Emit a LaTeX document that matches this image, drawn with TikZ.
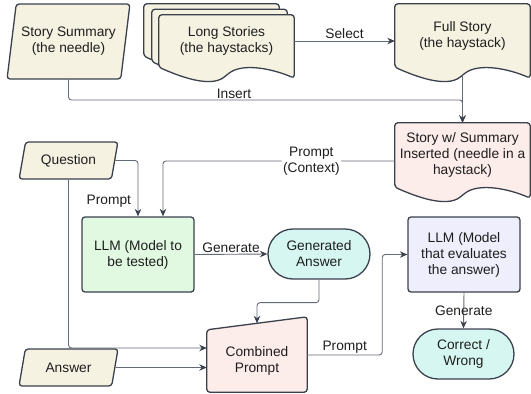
\documentclass[tikz,border=0pt]{standalone}
\usepackage{fontspec}
\setmainfont{Liberation Sans}
\usepackage{tikz}
\usetikzlibrary{shapes.geometric,arrows.meta,calc,backgrounds}

\definecolor{cream}{RGB}{246,242,226}
\definecolor{blush}{RGB}{252,236,234}
\definecolor{mint}{RGB}{214,247,241}
\definecolor{leaf}{RGB}{225,248,225}
\definecolor{lilac}{RGB}{238,238,252}
\definecolor{edge}{RGB}{58,64,76}
\definecolor{wire}{RGB}{100,106,118}
\definecolor{txt}{RGB}{30,30,30}

% document outline with a wavy bottom, drawn round a node
\newcommand{\docshape}[2]{%
  \path[#2] let \p1=(#1.south west), \p2=(#1.north east), \n1={\x2-\x1} in
    (\x1,\y1) -- (\x1,\y2) -- (\x2,\y2) -- (\x2,\y1-11pt)
    .. controls (\x1+0.85*\n1,\y1-2pt) and (\x1+0.62*\n1,\y1+5pt) .. (\x1+0.5*\n1,\y1-8pt)
    .. controls (\x1+0.38*\n1,\y1-21pt) and (\x1+0.15*\n1,\y1-9pt) .. cycle;}

\begin{document}
\begin{tikzpicture}[x=1pt, y=-1pt,
  every node/.style={font=\fontsize{13.75}{16}\selectfont, text=txt, align=center},
  para/.style={trapezium, trapezium left angle=75, trapezium right angle=105,
               trapezium stretches=true, draw=edge, line width=1.3pt,
               fill=cream, rounded corners=3pt, inner sep=2pt},
  box/.style={rectangle, draw=edge, line width=1.3pt, rounded corners=3pt,
              minimum width=112pt, minimum height=75pt},
  pill/.style={rectangle, draw=edge, line width=1.3pt, rounded corners=25pt,
               fill=mint, minimum height=50pt},
  doc/.style={rectangle, minimum width=135pt, inner sep=2pt},
  docline/.style={draw=edge, line width=1.3pt, rounded corners=3pt},
  conn/.style={draw=wire, line width=0.9pt, rounded corners=3pt,
               -{Stealth[length=7.5pt, width=6.5pt, color=edge]}},
  lbl/.style={inner sep=1.5pt}
]
\useasboundingbox (0,0) rectangle (531,394);

\node[para, minimum width=123pt, minimum height=75pt] (ss) at (68.5,41.5) {Story Summary\\(the needle)};
\node[doc, minimum height=52pt] (ls0) at (211.5,30) {};
\node[doc, minimum height=52pt] (ls1) at (219.5,35.5) {};
\node[doc, minimum height=52pt] (ls2) at (226.5,41) {Long Stories\\(the haystacks)};
\node[doc, minimum height=63pt] (fs) at (462.5,35.5) {Full Story\\(the haystack)};
\node[doc, minimum height=64pt] (sw) at (462.5,155) {Story w/ Summary\\Inserted (needle in a\\haystack)};
\node[para, minimum width=99pt, minimum height=37pt] (q) at (68.5,160.5) {Question};
\node[box, fill=leaf] (llm) at (138,254.5) {LLM (Model to\\be tested)};
\node[pill, minimum width=102pt] (ga) at (319,254) {Generated\\Answer};
\node[box, fill=lilac] (ev) at (464,254.5) {LLM (Model\\that evaluates\\the answer)};
\node[rectangle, minimum width=100pt, minimum height=62pt] (cp) at (257,361) {Combined\\Prompt};
\node[para, minimum width=99pt, minimum height=37pt] (a) at (68.5,367.5) {Answer};
\node[pill, minimum width=101pt] (cw) at (463.5,354) {Correct /\\Wrong};

\coordinate (ins) at (462.5,100);
\coordinate (cptop) at ($(cp.north)+(0,-6.5)$);

\begin{pgfonlayer}{background}
  \docshape{ls0}{docline, fill=cream}
  \docshape{ls1}{docline, fill=cream}
  \docshape{ls2}{docline, fill=cream}
  \docshape{fs}{docline, fill=cream}
  \docshape{sw}{docline, fill=blush}
  \path[docline, fill=blush] (cp.south west) -- (cp.north west)
    -- ([yshift=13pt]cp.north east) -- (cp.south east) -- cycle;
\end{pgfonlayer}

\draw[conn] (ls2.east) -- (fs.west |- ls2.east) node[lbl, above, midway] {Select};
\draw[conn] ([yshift=-8pt]fs.south) -- (sw.north);
\draw[conn] (ss.center |- ss.south) |- (ins) node[lbl, above=-1pt, pos=0.71] {Insert} -- (sw.north);
\draw[conn] ([yshift=-6pt]sw.west) -| ([xshift=25pt]llm.north)
  node[lbl, fill=white, pos=0.18] {Prompt\\(Context)};
\draw[conn] (q.east) -| (llm.north) node[lbl, pos=0.86, left=5pt] {Prompt};
\draw[conn] (q.center |- q.south) |- ([yshift=13pt]cp.west);
\draw[conn] (a.east) -- (cp.west |- a.east);
\draw[conn] (llm.east) -- (ga.west) node[lbl, above, midway] {Generate};
\draw[conn] (ga.south) -- ++(0,23) -| (cptop);
\draw[conn] ([yshift=6pt]cp.east) -- ++(75,0) node[lbl, above, midway] {Prompt} |- (ev.west);
\draw[conn] (ev.south) -- (cw.north) node[lbl, midway] {Generate};
\end{tikzpicture}
\end{document}
